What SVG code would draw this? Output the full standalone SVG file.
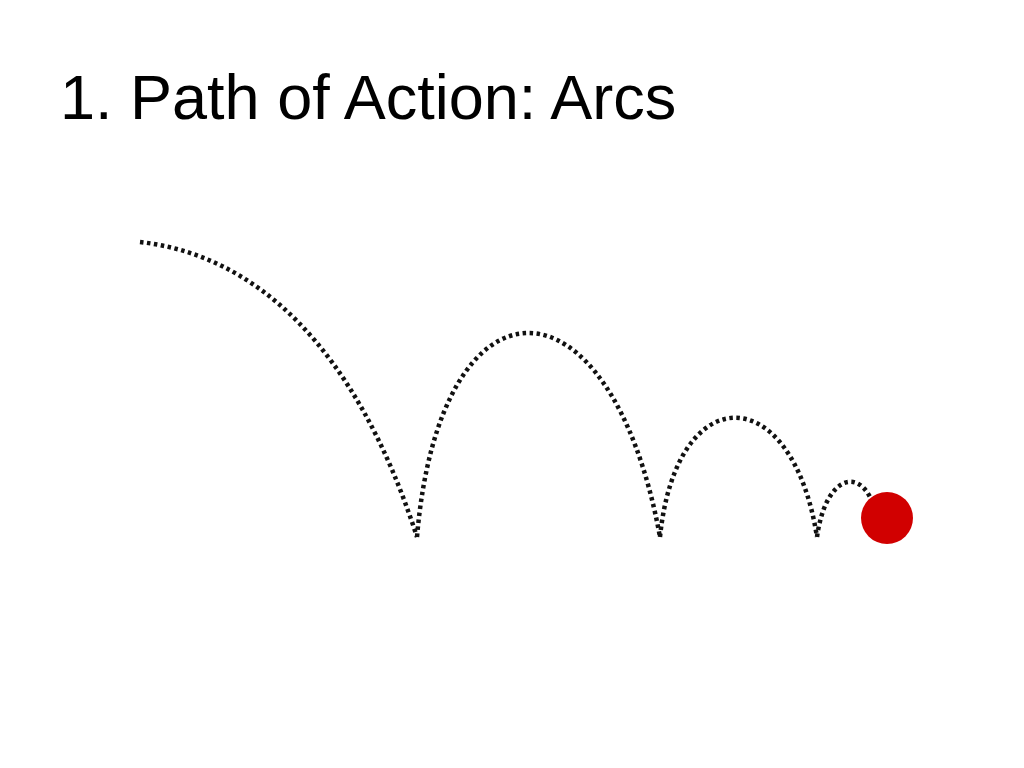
<svg xmlns="http://www.w3.org/2000/svg" width="1024" height="768" viewBox="0 0 1024 768">
<style>
.title{font-family:"Liberation Sans",Arial,sans-serif;font-size:63px;fill:#000}
.dots{fill:none;stroke:#111;stroke-width:4.5;stroke-dasharray:3.5 3.5;stroke-linecap:butt}
</style>
<rect width="1024" height="768" fill="#fff"/>
<text class="title" x="60" y="119">1. Path of Action: Arcs</text>
<g id="path">
<path class="dots" d="M140,242 C255,255 355,345 417,537"/>
<path class="dots" d="M417,537 C440,265 610,265 660,537"/>
<path class="dots" d="M660,537 C676,378 792,378 817,537"/>
<path class="dots" d="M817,537 C825,480 855,468 870,497"/>
</g>
<circle id="ball" cx="887" cy="518" r="26" fill="#d10000"/>
</svg>
